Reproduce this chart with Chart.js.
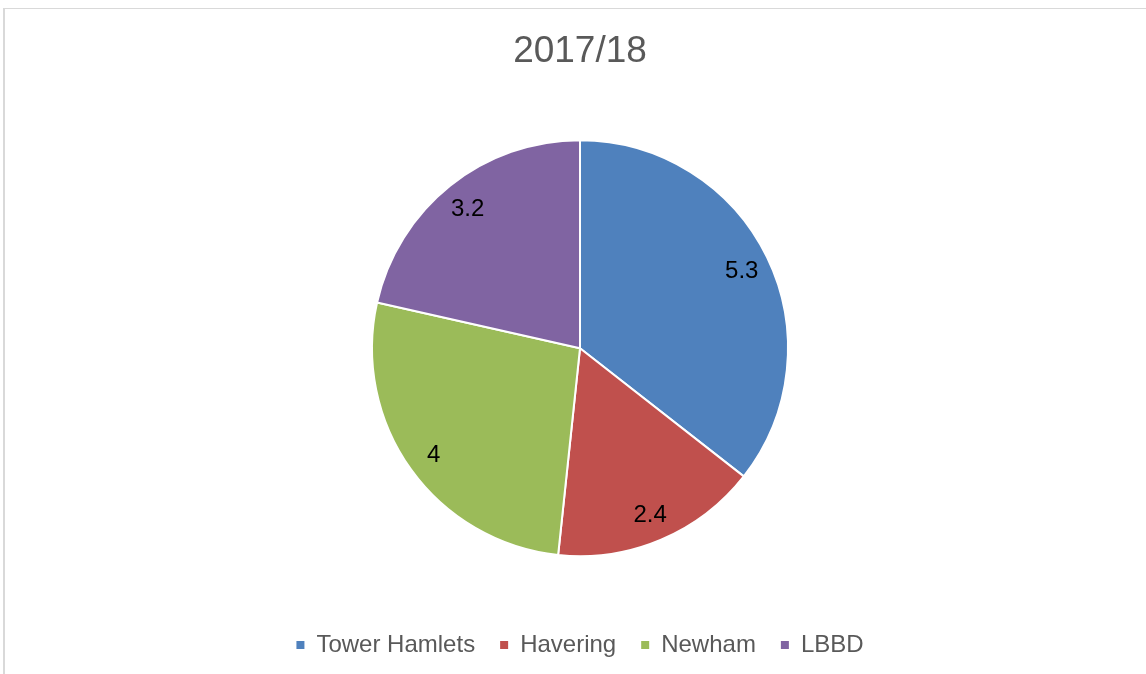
<!DOCTYPE html>
<html>
<head>
<meta charset="utf-8">
<script src="https://cdn.jsdelivr.net/npm/chart.js@4/dist/chart.umd.min.js"></script>
<style>
  html, body { margin: 0; padding: 0; background: #ffffff; overflow: hidden; }
  #frame {
    position: absolute; left: 3px; top: 8px; width: 1300px; height: 800px;
    border-top: 1px solid #d9d9d9; border-left: 2px solid #d9d9d9;
    box-sizing: border-box;
  }
  #wrap { position: absolute; left: 0; top: 0; width: 1146px; height: 674px; }
</style>
</head>
<body>
<div id="frame"></div>
<div id="wrap"><canvas id="chart" width="1146" height="674"></canvas></div>
<script>
// Boroughs and their 2017/18 figures
const boroughs = ['Tower Hamlets', 'Havering', 'Newham', 'LBBD'];
const values = [5.3, 2.4, 4, 3.2];
const sliceColors = ['#4F81BD', '#C0504D', '#9BBB59', '#8064A2'];
const chartTitle = '2017/18';

const FONT = "'Liberation Sans', Arial, Helvetica, sans-serif";
Chart.defaults.font.family = FONT;
Chart.defaults.color = '#595959';

// Writes each slice's value inside the slice, along its middle angle
const sliceValueLabels = {
  id: 'sliceValueLabels',
  afterDatasetsDraw(chart) {
    const ctx = chart.ctx;
    const meta = chart.getDatasetMeta(0);
    const data = chart.data.datasets[0].data;
    ctx.save();
    ctx.font = '24px ' + FONT;
    ctx.fillStyle = '#000000';
    ctx.textAlign = 'center';
    ctx.textBaseline = 'middle';
    meta.data.forEach((arc, i) => {
      const p = arc.getProps(['x', 'y', 'startAngle', 'endAngle', 'outerRadius'], true);
      const mid = (p.startAngle + p.endAngle) / 2;
      const r = p.outerRadius * 0.865;
      ctx.fillText(String(data[i]), p.x + Math.cos(mid) * r, p.y + Math.sin(mid) * r + 2);
    });
    ctx.restore();
  }
};

const defaultLabels = Chart.overrides.pie.plugins.legend.labels.generateLabels;

new Chart(document.getElementById('chart'), {
  type: 'pie',
  data: {
    labels: boroughs,
    datasets: [{
      data: values,
      backgroundColor: sliceColors,
      borderColor: '#ffffff',
      borderWidth: 2,
      radius: 208
    }]
  },
  options: {
    responsive: false,
    animation: false,
    layout: { padding: { left: 14, right: 0, top: 0, bottom: 7 } },
    plugins: {
      title: {
        display: true,
        text: chartTitle,
        color: '#595959',
        font: { size: 37, weight: 'normal', family: FONT },
        padding: { top: 30, bottom: 14 }
      },
      legend: {
        position: 'bottom',
        labels: {
          font: { size: 24, family: FONT },
          color: '#595959',
          boxWidth: 8,
          boxHeight: 8,
          padding: 25,
          generateLabels(chart) {
            return defaultLabels(chart).map(item => Object.assign(item, { lineWidth: 0 }));
          }
        }
      },
      tooltip: { enabled: false }
    }
  },
  plugins: [sliceValueLabels]
});
</script>
</body>
</html>
